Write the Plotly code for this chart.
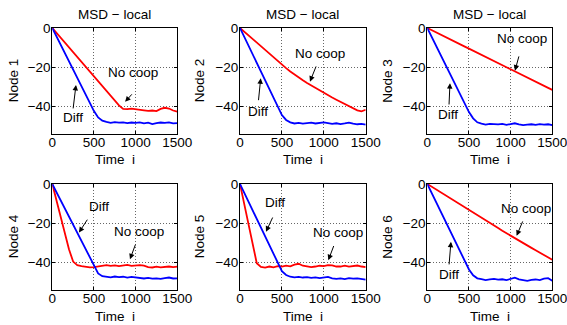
import plotly.graph_objects as go

W, H = 567, 325
t = list(range(0, 1501, 50))

diff1 = [0, -4.3, -8.5, -12.8, -17, -21.3, -25.5, -29.8, -34, -38.3, -42.3, -45.5, -47.2, -47.8, -48.3, -47.9,
         -48.2, -48.0, -48.4, -48.1, -48.3, -48.0, -48.5, -48.2, -48.9, -48.4, -48.1, -48.3, -48.0, -48.5, -48.4]
nocoop1 = [0, -2.5, -5, -7.4, -9.9, -12.3, -14.8, -17.3, -19.8, -22.2, -24.7, -27.1, -29.6, -32.0, -34.5, -37.0,
           -39.4, -41.2, -41.3, -41.0, -41.4, -41.5, -41.9, -42.2, -42.0, -42.3, -41.2, -40.6, -41.0, -42.0, -42.6]

diff2 = [0, -4.5, -9, -13.5, -18, -22.5, -27, -31.5, -36, -40.5, -44.3, -46.8, -48.0, -48.6, -48.3, -48.7,
         -48.4, -48.2, -48.6, -48.3, -48.0, -48.4, -48.8, -48.5, -48.9, -48.6, -48.2, -48.7, -49.0, -48.8, -49.2]
nocoop2 = [0, -1.9, -3.7, -5.6, -7.4, -9.3, -11.2, -13.0, -14.9, -16.8, -18.6, -20.4, -22.1, -23.7, -25.2, -26.6,
           -28.0, -29.3, -30.6, -31.8, -33.0, -34.2, -35.4, -36.5, -37.6, -38.8, -40.0, -41.1, -41.9, -42.4, -41.6]

diff3 = [0, -4.3, -8.6, -12.9, -17.2, -21.5, -25.8, -30.1, -34.4, -38.7, -42.8, -46.0, -48.0, -48.7, -49.2, -48.8,
         -49.0, -49.1, -48.8, -49.3, -48.9, -48.5, -49.0, -49.4, -49.2, -49.0, -49.3, -48.9, -49.2, -49.0, -49.4]
nocoop3 = [0, -1.1, -2.1, -3.2, -4.2, -5.3, -6.3, -7.4, -8.4, -9.5, -10.5, -11.6, -12.6, -13.7, -14.7, -15.8,
           -16.8, -17.9, -18.9, -20.0, -21.0, -22.1, -23.1, -24.2, -25.2, -26.3, -27.3, -28.4, -29.4, -30.5, -31.5]

diff4 = [0, -4.2, -8.4, -12.6, -16.7, -20.9, -25.1, -29.3, -33.5, -37.7, -41.9, -45.5, -46.9, -47.2, -47.5, -47.1,
         -47.4, -47.2, -47.6, -47.3, -47.5, -47.9, -48.1, -47.8, -48.2, -48.0, -48.3, -47.9, -47.6, -48.1, -48.0]
nocoop4 = [0, -8.3, -16.6, -24.9, -33.2, -39.5, -41.3, -41.8, -42.2, -42.4, -42.3, -42.0, -41.6, -41.3, -41.7, -41.4,
           -41.8, -41.5, -41.2, -41.7, -41.5, -41.3, -41.6, -42.3, -42.5, -42.1, -42.4, -42.2, -42.0, -42.3, -42.1]

diff5 = [0, -4.5, -9.1, -13.6, -18.1, -22.6, -27.2, -31.7, -36.2, -40.7, -44.4, -46.3, -47.2, -47.5, -47.3, -47.6,
         -47.4, -47.8, -47.5, -47.9, -47.6, -47.3, -48.0, -48.3, -48.0, -48.4, -47.9, -48.2, -48.0, -48.4, -48.7]
nocoop5 = [0, -10.1, -20.2, -30.3, -40.3, -42.2, -42.6, -42.0, -42.4, -41.8, -42.0, -41.6, -41.9, -41.0, -40.6, -41.6,
           -42.1, -42.3, -42.0, -41.6, -41.8, -41.3, -41.4, -42.0, -42.0, -41.6, -42.1, -41.8, -41.5, -42.0, -42.3]

diff6 = [0, -4.4, -8.7, -13.1, -17.4, -21.8, -26.1, -30.5, -34.8, -39.2, -43.5, -46.5, -48.0, -48.4, -48.9, -48.6,
         -48.3, -48.7, -48.5, -48.9, -48.3, -47.7, -48.5, -48.9, -49.3, -48.8, -48.6, -48.9, -48.2, -47.9, -49.2]
nocoop6 = [0, -1.3, -2.6, -4.0, -5.3, -6.6, -7.9, -9.2, -10.6, -11.9, -13.2, -14.5, -15.8, -17.2, -18.5, -19.8,
           -21.1, -22.4, -23.8, -25.1, -26.4, -27.6, -28.8, -30.1, -31.3, -32.5, -33.7, -35.0, -36.2, -37.4, -38.6]

diff_series = [diff1, diff2, diff3, diff4, diff5, diff6]
nocoop_series = [nocoop1, nocoop2, nocoop3, nocoop4, nocoop5, nocoop6]
node_labels = ["Node 1", "Node 2", "Node 3", "Node 4", "Node 5", "Node 6"]
panel_title = "MSD − local"
x_label = "Time\u00a0\u00a0i"
x_ticks = [0, 500, 1000, 1500]
y_ticks = [-40, -20, 0]

# annotation positions in data coords: (text_x, text_y, tail_x, tail_y, tip_x, tip_y)
nocoop_ann = [
    (970, -22.9, 970, -33, 874, -37.6),
    (954, -12.9, 915, -18.8, 835, -27.3),
    (1133, -5.2, 1104, -13.7, 1052, -21.7),
    (1044, -24.2, 1004, -30.1, 932, -38.3),
    (1165, -24.7, 1125, -30.8, 1054, -38.8),
    (1180, -12.4, 1152, -18.3, 1072, -26.4),
]
diff_ann = [
    (248, -45.8, 248, -41.7, 284, -29.0),
    (219, -42.5, 219, -37.5, 247, -25.6),
    (244, -44.2, 260, -39.7, 272, -28.1),
    (564, -11.5, 432, -17.4, 320, -24.7),
    (418, -9.5, 398, -16.3, 310, -24.3),
    (260, -46.3, 260, -41.7, 284, -29.4),
]

FONT = "Liberation Sans, Arial, Helvetica, sans-serif"

# pixel layout of plot areas
col_px = [(52.3, 177.3), (240.0, 365.7), (427.3, 552.3)]
row_px = [(28.0, 133.5), (184.0, 289.5)]
yranges = [[-53.7, 0], [-53.7, 0]]
ylab_px = [13.5, 199.5, 388]
xlab_py = [159.5, 316]

fig = go.Figure()
layout = dict(
    template="none",
    width=W, height=H, margin=dict(l=0, r=0, t=0, b=0, pad=0), autosize=False,
    paper_bgcolor="white", plot_bgcolor="white", showlegend=False,
    font=dict(family=FONT, size=13, color="black"),
)
annotations = []

for k in range(6):
    r, c = divmod(k, 3)
    sfx = "" if k == 0 else str(k + 1)
    xa, ya = "x" + sfx, "y" + sfx
    x0, x1 = col_px[c]
    y0, y1 = row_px[r]
    common = dict(showgrid=True, gridcolor="rgba(0,0,0,0.6)", griddash="1px,2px", gridwidth=1,
                  showline=True, linecolor="black", linewidth=1, mirror="ticks",
                  ticks="inside", ticklen=3, tickcolor="black", zeroline=False, automargin=False,
                  ticklabeloverflow="allow",
                  tickfont=dict(family=FONT, size=13.5, color="black"))
    layout["xaxis" + sfx] = dict(domain=[x0 / W, x1 / W], range=[0, 1500], tickvals=x_ticks,
                                 anchor=ya, ticklabelstandoff=-4, **common)
    layout["yaxis" + sfx] = dict(domain=[1 - y1 / H, 1 - y0 / H], range=yranges[r], tickvals=y_ticks,
                                 anchor=xa, ticklabelstandoff=-2, **common)
    fig.add_trace(go.Scatter(x=t, y=nocoop_series[k], mode="lines", line=dict(color="#ff0000", width=1.8),
                             xaxis=xa, yaxis=ya, hoverinfo="skip"))
    fig.add_trace(go.Scatter(x=t, y=diff_series[k], mode="lines", line=dict(color="#0000ff", width=1.8),
                             xaxis=xa, yaxis=ya, hoverinfo="skip"))
    for label, ann in (("No coop", nocoop_ann[k]), ("Diff", diff_ann[k])):
        tx, ty, ax, ay, px, py = ann
        annotations.append(dict(x=tx, y=ty, xref=xa, yref=ya, text=label, showarrow=False,
                                xanchor="center", yanchor="middle",
                                font=dict(size=13.5, family=FONT, color="black")))
        annotations.append(dict(x=px, y=py, ax=ax, ay=ay, xref=xa, yref=ya, axref=xa, ayref=ya,
                                text="", showarrow=True, arrowhead=2, arrowsize=1.1,
                                arrowwidth=1, arrowcolor="black"))
    # axis labels
    annotations.append(dict(x=ylab_px[c] / W, y=1 - (y0 + y1) / 2 / H, xref="paper", yref="paper",
                            text=node_labels[k], textangle=-90, showarrow=False,
                            xanchor="center", yanchor="middle", font=dict(size=13.5, family=FONT)))
    annotations.append(dict(x=(x0 + x1) / 2 / W, y=1 - xlab_py[r] / H, xref="paper", yref="paper",
                            text=x_label, showarrow=False, xanchor="center", yanchor="middle",
                            font=dict(size=13.5, family=FONT)))
    if r == 0:
        annotations.append(dict(x=(x0 + x1) / 2 / W, y=1 - 14 / H, xref="paper", yref="paper",
                                text=panel_title, showarrow=False, xanchor="center", yanchor="middle",
                                font=dict(size=13.5, family=FONT)))

layout["annotations"] = annotations
fig.update_layout(**layout)
fig.write_html("out.html", config={"displayModeBar": False, "staticPlot": True},
               post_script="document.body.style.margin='0px';document.body.style.padding='0px';")
